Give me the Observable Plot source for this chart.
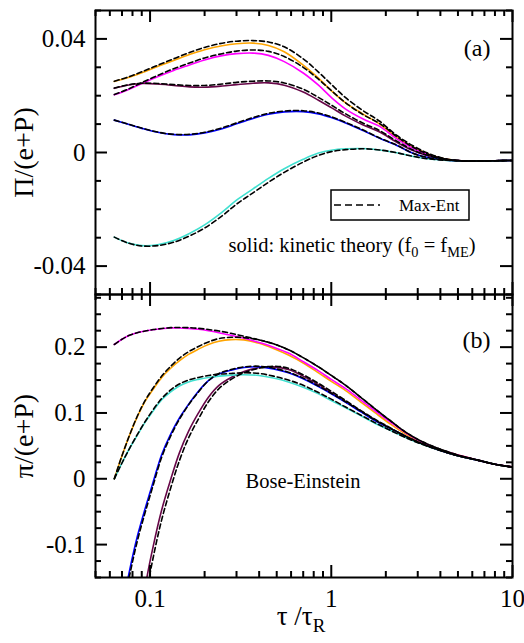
<!DOCTYPE html>
<html>
<head>
<meta charset="utf-8">
<script src="https://cdn.jsdelivr.net/npm/d3@7"></script>
<script src="https://cdn.jsdelivr.net/npm/@observablehq/plot@0.6"></script>
<style>
  body { margin: 0; background: #fff; }
  #fig { position: relative; width: 524px; height: 643px; overflow: hidden; }
  #fig svg { position: absolute; left: 0; }
  #fig svg text, #fig svg tspan { font-family: "Liberation Serif", "Times New Roman", Times, "DejaVu Serif", serif !important; }
</style>
</head>
<body>
<div id="fig"></div>
<script>
// Time axis samples, tau / tau_R
const tauA = [0.0635, 0.075, 0.09, 0.11, 0.135, 0.165, 0.2, 0.25, 0.3, 0.37, 0.45, 0.55, 0.7, 0.85, 1.0, 1.2, 1.5, 1.85, 2.3, 2.8, 3.4, 4.2, 5.2, 6.5, 8, 10];
const tauB = [0.0635, 0.07, 0.077, 0.085, 0.094, 0.104, 0.116, 0.13, 0.145, 0.163, 0.185, 0.21, 0.24, 0.28, 0.33, 0.4, 0.48, 0.58, 0.7, 0.85, 1.0, 1.2, 1.45, 1.75, 2.1, 2.6, 3.2, 4.0, 5.0, 6.5, 8.0, 10];

// (a) bulk pressure Pi/(e+P): kinetic theory (KT) and Max-Ent (ME)
const bulkOrangeKT  = [0.0250, 0.0263, 0.0281, 0.0303, 0.0324, 0.0345, 0.0362, 0.0376, 0.0383, 0.0385, 0.0377, 0.0355, 0.0308, 0.0262, 0.0218, 0.0175, 0.0135, 0.0100, 0.0053, 0.0020, -0.0004, -0.0022, -0.0029, -0.0030, -0.0029, -0.0028];
const bulkOrangeME  = [0.0251, 0.0265, 0.0284, 0.0307, 0.0330, 0.0352, 0.0370, 0.0385, 0.0392, 0.0394, 0.0389, 0.0372, 0.0330, 0.0283, 0.0240, 0.0193, 0.0147, 0.0110, 0.0060, 0.0025, -0.0002, -0.0021, -0.0029, -0.0030, -0.0029, -0.0028];
const bulkMagentaKT = [0.0203, 0.0220, 0.0243, 0.0267, 0.0289, 0.0308, 0.0326, 0.0341, 0.0348, 0.0350, 0.0342, 0.0320, 0.0280, 0.0237, 0.0194, 0.0153, 0.0118, 0.0092, 0.0048, 0.0016, -0.0007, -0.0023, -0.0029, -0.0030, -0.0029, -0.0028];
const bulkMagentaME = [0.0204, 0.0222, 0.0246, 0.0271, 0.0295, 0.0315, 0.0333, 0.0348, 0.0357, 0.0361, 0.0356, 0.0338, 0.0300, 0.0258, 0.0218, 0.0175, 0.0133, 0.0102, 0.0056, 0.0020, -0.0005, -0.0022, -0.0029, -0.0030, -0.0029, -0.0028];
const bulkMaroonKT  = [0.0226, 0.0237, 0.0243, 0.0241, 0.0236, 0.0231, 0.0230, 0.0234, 0.0239, 0.0244, 0.0245, 0.0237, 0.0213, 0.0184, 0.0158, 0.0128, 0.0097, 0.0072, 0.0036, 0.0008, -0.0011, -0.0024, -0.0029, -0.0030, -0.0029, -0.0028];
const bulkMaroonME  = [0.0227, 0.0238, 0.0244, 0.0243, 0.0239, 0.0236, 0.0236, 0.0241, 0.0247, 0.0251, 0.0252, 0.0245, 0.0223, 0.0194, 0.0167, 0.0136, 0.0103, 0.0077, 0.0040, 0.0010, -0.0010, -0.0024, -0.0029, -0.0030, -0.0029, -0.0028];
const bulkBlueKT    = [0.0114, 0.0100, 0.0085, 0.0071, 0.0063, 0.0062, 0.0069, 0.0084, 0.0101, 0.0120, 0.0135, 0.0143, 0.0144, 0.0136, 0.0123, 0.0104, 0.0077, 0.0050, 0.0025, -0.0002, -0.0018, -0.0026, -0.0030, -0.0030, -0.0029, -0.0028];
const bulkBlueME    = [0.0114, 0.0101, 0.0086, 0.0072, 0.0064, 0.0064, 0.0071, 0.0087, 0.0104, 0.0123, 0.0138, 0.0146, 0.0147, 0.0139, 0.0126, 0.0106, 0.0079, 0.0051, 0.0026, -0.0002, -0.0018, -0.0026, -0.0030, -0.0030, -0.0029, -0.0028];
const bulkTurqKT    = [-0.0298, -0.0318, -0.0328, -0.0325, -0.0310, -0.0285, -0.0255, -0.0210, -0.0168, -0.0128, -0.0091, -0.0057, -0.0024, -0.0002, 0.0008, 0.0013, 0.0014, 0.0009, -0.0001, -0.0013, -0.0022, -0.0027, -0.0029, -0.0030, -0.0029, -0.0028];
const bulkTurqME    = [-0.0298, -0.0318, -0.0329, -0.0328, -0.0316, -0.0294, -0.0266, -0.0223, -0.0182, -0.0142, -0.0105, -0.0070, -0.0034, -0.0010, 0.0003, 0.0010, 0.0013, 0.0009, -0.0001, -0.0013, -0.0022, -0.0027, -0.0029, -0.0030, -0.0029, -0.0028];

// (b) shear stress pi/(e+P), Bose-Einstein
const shearOrangeKT  = [0, 0.035, 0.066, 0.094, 0.118, 0.136, 0.154, 0.168, 0.179, 0.189, 0.197, 0.204, 0.209, 0.2115, 0.211, 0.206, 0.198, 0.188, 0.176, 0.161, 0.148, 0.134, 0.117, 0.100, 0.084, 0.067, 0.054, 0.044, 0.036, 0.028, 0.022, 0.018];
const shearOrangeME  = [0, 0.035, 0.066, 0.095, 0.119, 0.138, 0.156, 0.171, 0.183, 0.193, 0.201, 0.208, 0.213, 0.215, 0.2145, 0.211, 0.205, 0.196, 0.184, 0.170, 0.157, 0.142, 0.124, 0.106, 0.089, 0.070, 0.056, 0.045, 0.036, 0.028, 0.022, 0.018];
const shearMagentaKT = [0.204, 0.212, 0.218, 0.222, 0.2245, 0.2265, 0.228, 0.2292, 0.2292, 0.2285, 0.2272, 0.225, 0.222, 0.218, 0.2135, 0.207, 0.200, 0.191, 0.178, 0.164, 0.151, 0.137, 0.120, 0.103, 0.087, 0.069, 0.055, 0.044, 0.036, 0.028, 0.022, 0.018];
const shearMagentaME = [0.204, 0.212, 0.218, 0.222, 0.2245, 0.2267, 0.2283, 0.2296, 0.2299, 0.2296, 0.2286, 0.2268, 0.2245, 0.221, 0.2165, 0.211, 0.205, 0.196, 0.184, 0.170, 0.157, 0.142, 0.124, 0.106, 0.089, 0.070, 0.056, 0.045, 0.036, 0.028, 0.022, 0.018];
const shearMaroonKT  = [null, null, null, -0.26, -0.165, -0.103, -0.047, -0.001, 0.039, 0.072, 0.100, 0.124, 0.142, 0.154, 0.163, 0.169, 0.170, 0.166, 0.156, 0.143, 0.131, 0.117, 0.103, 0.089, 0.077, 0.064, 0.053, 0.043, 0.035, 0.028, 0.022, 0.0178];
const shearMaroonME  = [null, null, null, -0.28, -0.185, -0.120, -0.062, -0.014, 0.027, 0.062, 0.091, 0.117, 0.137, 0.151, 0.161, 0.168, 0.171, 0.168, 0.158, 0.145, 0.133, 0.119, 0.104, 0.090, 0.078, 0.064, 0.053, 0.043, 0.035, 0.028, 0.022, 0.0178];
const shearBlueKT    = [-0.26, -0.20, -0.140, -0.088, -0.045, -0.005, 0.037, 0.068, 0.092, 0.113, 0.133, 0.149, 0.159, 0.165, 0.169, 0.170, 0.167, 0.161, 0.152, 0.140, 0.129, 0.116, 0.102, 0.088, 0.077, 0.064, 0.053, 0.043, 0.035, 0.028, 0.022, 0.0178];
const shearBlueME    = [-0.27, -0.21, -0.148, -0.095, -0.051, -0.010, 0.033, 0.065, 0.090, 0.112, 0.132, 0.149, 0.160, 0.166, 0.170, 0.171, 0.168, 0.162, 0.153, 0.141, 0.130, 0.117, 0.103, 0.089, 0.077, 0.064, 0.053, 0.043, 0.035, 0.028, 0.022, 0.0178];
const shearTurqKT    = [0, 0.024, 0.046, 0.066, 0.086, 0.103, 0.120, 0.132, 0.141, 0.147, 0.151, 0.154, 0.156, 0.1575, 0.158, 0.157, 0.153, 0.147, 0.139, 0.129, 0.119, 0.108, 0.096, 0.084, 0.074, 0.062, 0.052, 0.043, 0.035, 0.028, 0.022, 0.0175];
const shearTurqME    = [0, 0.024, 0.046, 0.067, 0.087, 0.105, 0.122, 0.135, 0.144, 0.150, 0.154, 0.157, 0.159, 0.160, 0.161, 0.160, 0.156, 0.150, 0.142, 0.131, 0.121, 0.109, 0.097, 0.085, 0.074, 0.062, 0.052, 0.043, 0.035, 0.028, 0.022, 0.0175];

const colors = {orange: "#ffa500", magenta: "#ff00ff", maroon: "#670748", blue: "#0000ff", turquoise: "#40e0d0"};

// Axis ticks
const xMajor = [0.1, 1, 10];
const xMinor = [0.05, 0.06, 0.07, 0.08, 0.09, 0.2, 0.3, 0.4, 0.5, 0.6, 0.7, 0.8, 0.9, 2, 3, 4, 5, 6, 7, 8, 9];
const yMajorA = [-0.04, 0, 0.04];
const yMinorA = [-0.05, -0.03, -0.02, -0.01, 0.01, 0.02, 0.03, 0.05];
const yLabelsA = ["-0.04", "0", "0.04"];
const yMajorB = [-0.1, 0, 0.1, 0.2];
const yMinorB = [-0.15, -0.125, -0.075, -0.05, -0.025, 0.025, 0.05, 0.075, 0.125, 0.15, 0.175, 0.225, 0.25, 0.275];
const yLabelsB = ["-0.1", "0", "0.1", "0.2"];

const FONT = "Liberation Serif, Times New Roman, serif";
const W = 524, ML = 95, MR = 12;
const FW = W - ML - MR;

function rows(tau, vals) {
  return tau.map((t, i) => ({tau: t, v: vals[i]}));
}

// replace "_{...}" with lowered, smaller tspans
function subscripts(svg) {
  d3.select(svg).selectAll("text").each(function () {
    const s = this.textContent;
    if (!s.includes("_{")) return;
    const el = d3.select(this);
    el.text(null);
    const parts = s.split(/(_\{[^}]*\})/).filter(p => p.length);
    let lowered = false;
    for (const p of parts) {
      if (p.startsWith("_{")) {
        el.append("tspan").attr("font-size", "70%").attr("dy", "0.4em").text(p.slice(2, -1));
        lowered = true;
      } else {
        const t = el.append("tspan").text(p);
        if (lowered) { t.attr("dy", "-0.28em"); lowered = false; }
      }
    }
  });
}

function panel(o) {
  const FH = o.height - o.marginTop - o.marginBottom;
  const marks = [];
  for (const s of o.series) {
    marks.push(Plot.line(rows(o.tau, s.kt), {x: "tau", y: "v", stroke: s.color, strokeWidth: 1.6, curve: "catmull-rom", clip: true}));
  }
  for (const s of o.series) {
    marks.push(Plot.line(rows(o.tau, s.me), {x: "tau", y: "v", stroke: "black", strokeWidth: 1.6, strokeDasharray: "5,3", curve: "catmull-rom", clip: true}));
  }
  const tk = {stroke: "black", strokeWidth: 2};
  marks.push(
    Plot.tickY(o.yMajor, {y: d => d, insetRight: FW - 12, ...tk}),
    Plot.tickY(o.yMajor, {y: d => d, insetLeft: FW - 12, ...tk}),
    Plot.tickY(o.yMinor, {y: d => d, insetRight: FW - 6, ...tk}),
    Plot.tickY(o.yMinor, {y: d => d, insetLeft: FW - 6, ...tk}),
    Plot.tickX(xMajor, {x: d => d, insetBottom: FH - 12, ...tk}),
    Plot.tickX(xMajor, {x: d => d, insetTop: FH - 12, ...tk}),
    Plot.tickX(xMinor, {x: d => d, insetBottom: FH - 6, ...tk}),
    Plot.tickX(xMinor, {x: d => d, insetTop: FH - 6, ...tk}),
    Plot.frame({stroke: "black", strokeWidth: 2}),
    Plot.text(o.yMajor, {y: d => d, text: (d, i) => o.yLabels[i], frameAnchor: "left", textAnchor: "end", dx: -10, fontSize: 25, fontFamily: FONT, fill: "black"}),
    Plot.text([o.yTitle], {frameAnchor: "left", dx: -71, rotate: -90, textAnchor: "middle", fontSize: 28, fontFamily: FONT, fill: "black"}),
    Plot.text([o.tag], {frameAnchor: "top-right", dx: -22, dy: o.tagDy, textAnchor: "end", fontSize: 24, fontFamily: FONT, fill: "black"})
  );
  marks.push(...o.extra);
  const svg = Plot.plot({
    width: W, height: o.height,
    marginLeft: ML, marginRight: MR, marginTop: o.marginTop, marginBottom: o.marginBottom,
    x: {type: "log", domain: [0.05, 10], axis: null},
    y: {domain: o.yDomain, axis: null},
    style: {fontFamily: FONT, background: "transparent", overflow: "visible"},
    marks
  });
  svg.style.top = o.top + "px";
  return svg;
}

const fig = document.getElementById("fig");

const svgA = panel({
  top: 0, height: 300, marginTop: 10, marginBottom: 6,
  tau: tauA, yDomain: [-0.05, 0.05],
  yMajor: yMajorA, yMinor: yMinorA, yLabels: yLabelsA,
  yTitle: "Π/(e+P)", tag: "(a)", tagDy: 28,
  series: [
    {color: colors.orange, kt: bulkOrangeKT, me: bulkOrangeME},
    {color: colors.magenta, kt: bulkMagentaKT, me: bulkMagentaME},
    {color: colors.maroon, kt: bulkMaroonKT, me: bulkMaroonME},
    {color: colors.blue, kt: bulkBlueKT, me: bulkBlueME},
    {color: colors.turquoise, kt: bulkTurqKT, me: bulkTurqME}
  ],
  extra: [
    Plot.text(["solid: kinetic theory (f_{0} = f_{ME})"], {frameAnchor: "bottom-right", dx: -37, dy: -43, textAnchor: "end", fontSize: 20.5, fontFamily: FONT, fill: "black"})
  ]
});

const svgB = panel({
  top: 288, height: 355, marginTop: 6, marginBottom: 66,
  tau: tauB, yDomain: [-0.15, 0.28],
  yMajor: yMajorB, yMinor: yMinorB, yLabels: yLabelsB,
  yTitle: "π/(e+P)", tag: "(b)", tagDy: 36,
  series: [
    {color: colors.maroon, kt: shearMaroonKT, me: shearMaroonME},
    {color: colors.blue, kt: shearBlueKT, me: shearBlueME},
    {color: colors.orange, kt: shearOrangeKT, me: shearOrangeME},
    {color: colors.turquoise, kt: shearTurqKT, me: shearTurqME},
    {color: colors.magenta, kt: shearMagentaKT, me: shearMagentaME}
  ],
  extra: [
    Plot.text(xMajor, {x: d => d, text: d => String(d), frameAnchor: "bottom", lineAnchor: "top", dy: 12, fontSize: 25, fontFamily: FONT, fill: "black"}),
    Plot.text(["τ /τ_{R}"], {frameAnchor: "bottom", dx: -3, dy: 47, fontSize: 27, fontFamily: FONT, fill: "black"}),
    Plot.text(["Bose-Einstein"], {frameAnchor: "left", dx: 150, dy: 45, textAnchor: "start", fontSize: 20.5, fontFamily: FONT, fill: "black"})
  ]
});

fig.appendChild(svgA);
fig.appendChild(svgB);
subscripts(svgA);
subscripts(svgB);

// Legend box for the dashed Max-Ent curves
const lg = d3.select(svgA).append("g").attr("transform", "translate(331,190)");
lg.append("rect").attr("width", 138).attr("height", 30).attr("fill", "white").attr("stroke", "black").attr("stroke-width", 1.5);
lg.append("line").attr("x1", 3).attr("x2", 49).attr("y1", 15).attr("y2", 15)
  .attr("stroke", "black").attr("stroke-width", 1.5).attr("stroke-dasharray", "7,4");
lg.append("text").attr("x", 68).attr("y", 21).attr("text-anchor", "start")
  .attr("font-size", 17).attr("font-family", FONT).attr("fill", "black").text("Max-Ent");
</script>
</body>
</html>
